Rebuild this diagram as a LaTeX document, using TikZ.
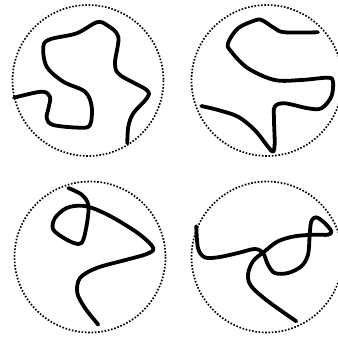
\documentclass[tikz,border=0pt]{standalone}
\begin{document}
\begin{tikzpicture}[x=1pt,y=-1pt,
  ring/.style={line width=1.7pt, dash pattern=on 1.6pt off 1.7pt},
  strand/.style={line width=3.8pt, line cap=round, line join=round}]
\useasboundingbox (0,0) rectangle (338,337);
\clip (0,0) rectangle (338,337);
\draw[ring] (88,80.5) circle (75.5);
\draw[ring] (267,80.5) circle (75.5);
\draw[ring] (90,257) circle (75.5);
\draw[ring] (267,257) circle (75.5);
\draw[strand] plot[smooth, tension=0.55] coordinates {
 (14,97.7) (41.7,91.7) (50,97) (48.5,108) (46.7,118.3) (53.3,125) (80,127.7) (90,125)
 (91.7,106.7) (85,91.7) (63.3,81.7) (46.7,66.7) (43.3,46.7) (50,39.3) (76.7,33.3)
 (96.7,22.3) (106.7,25) (118.3,36.7) (115,63.3) (120,75) (146.7,90) (146.7,98.3)
 (133.3,113.3) (128.3,126.7) (127.3,143.3)};
\draw[strand] plot[smooth, tension=0.55] coordinates {
 (318,32.3) (284.7,32.3) (274.7,28.3) (263,20.7) (256.3,20) (238,28.3) (228,43.3)
 (231.3,51.7) (248,68.3) (274.7,80) (301.3,80) (328,77.7) (333,81.7) (331.3,96.7)
 (321.3,108.3) (308,108.3) (284.7,103.3) (274.7,106.7) (274,120) (274.7,143.3)
 (273,151.7) (268,146.7) (254.7,130) (238,116.7) (218,110) (201.3,106)};
\draw[strand] plot[smooth, tension=0.55] coordinates {
 (68.3,188) (81.7,194.7) (88.3,204.7) (87.3,221.3) (83.3,239.7) (78.3,244) (66.7,239.7)
 (53.3,229.7) (55,218) (66.7,208) (81.7,205.7) (96.7,209.7) (116.7,219.7) (140,234.7)
 (153.3,248) (146.7,254) (126.7,259.7) (96.7,268) (80,278) (77.3,293) (85,308) (98.3,324.7)};
\draw[strand] plot[smooth, tension=0.55] coordinates {
 (196.3,226.3) (198,248) (204.7,257.3) (218,257.3) (238,253) (254.7,249) (263,253)
 (268,264.7) (274.7,273) (288,273) (301.3,266.3) (308,254.7) (309.7,234.7) (311.3,221.3)
 (316.3,217.3) (324.7,223) (331.3,231.3) (328,234.7) (314.7,234.7) (294.7,236.3)
 (278,241.3) (264.7,251.3) (253,261.3) (248,274.7) (251.3,286.3) (268,301.3) (296.3,321.3)};
\end{tikzpicture}
\end{document}
